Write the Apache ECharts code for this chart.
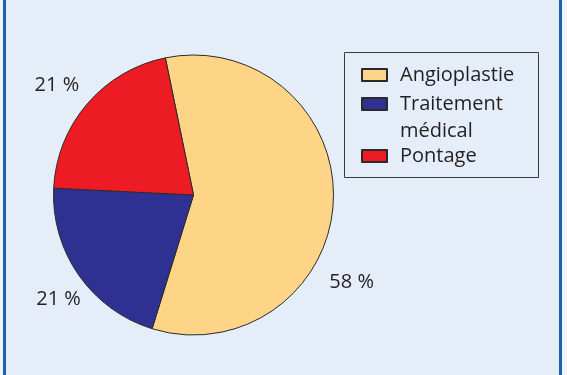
<!DOCTYPE html>
<html>
<head>
<meta charset="utf-8">
<script src="https://cdn.jsdelivr.net/npm/echarts@6/dist/echarts.min.js"></script>
<style>
  html, body { margin: 0; padding: 0; background: #eef3fa; }
  #frame { position: absolute; left: 3px; top: 0; width: 553px; height: 375px;
           border-left: 3px solid #1a62ae; border-right: 3px solid #1a62ae; background: #e5edf8; }
  #chart { position: absolute; left: 0; top: 0; width: 567px; height: 375px; }
</style>
</head>
<body>
<div id="frame"></div>
<div id="chart"></div>
<script>
// Data
const categories = ['Angioplastie', 'Traitement médical', 'Pontage'];
const values = [58, 21, 21];
const legendNames = ['Angioplastie', 'Traitement\nmédical', 'Pontage'];

// Styles
const colors = ['#fed486', '#2e3192', '#ed1c24'];
const labelShift = [[-9, 80], [7, 24], [-3, -19]];
const textColor = '#231f20';
const fontFamily = '"Open Sans", "Noto Sans", sans-serif';

const chart = echarts.init(document.getElementById('chart'), null, { renderer: 'canvas' });

const pieData = categories.map((c, i) => ({
  name: legendNames[i],
  value: values[i],
  itemStyle: { color: colors[i] }
}));

chart.setOption({
  animation: false,
  backgroundColor: 'transparent',
  graphic: [{
    type: 'rect',
    silent: true,
    shape: { x: 344.5, y: 52.5, width: 194, height: 125 },
    style: { fill: 'none', stroke: '#3a3a3a', lineWidth: 1 }
  }],
  legend: {
    orient: 'vertical',
    left: 361,
    top: 61.5,
    padding: 0,
    itemWidth: 33,
    itemHeight: 12,
    itemGap: -25,
    icon: 'path://M0,0h25v12h-25zM33,12',
    selectedMode: false,
    formatter: function (name) {
      return name.indexOf('\n') >= 0 ? '\n' + name : name;
    },
    textStyle: { fontSize: 20, color: textColor, fontFamily: fontFamily, lineHeight: 27 },
    data: [
      { name: legendNames[0] },
      { name: legendNames[1] },
      { name: legendNames[2], textStyle: { padding: [23, 0, 23, 0] } }
    ]
  },
  series: [{
    type: 'pie',
    center: [193.5, 195],
    radius: 140,
    startAngle: 101.6,
    clockwise: true,
    silent: true,
    avoidLabelOverlap: false,
    itemStyle: { borderColor: '#2a2a2a', borderWidth: 1 },
    label: {
      show: true,
      position: 'outside',
      formatter: '{c} %',
      fontSize: 20,
      color: textColor,
      fontFamily: fontFamily,
      distanceToLabelLine: 5
    },
    labelLine: { show: false, length: 0, length2: 0 },
    labelLayout: function (p) {
      const s = labelShift[p.dataIndex];
      return { dx: s[0], dy: s[1] };
    },
    data: pieData
  }]
});
</script>
</body>
</html>
